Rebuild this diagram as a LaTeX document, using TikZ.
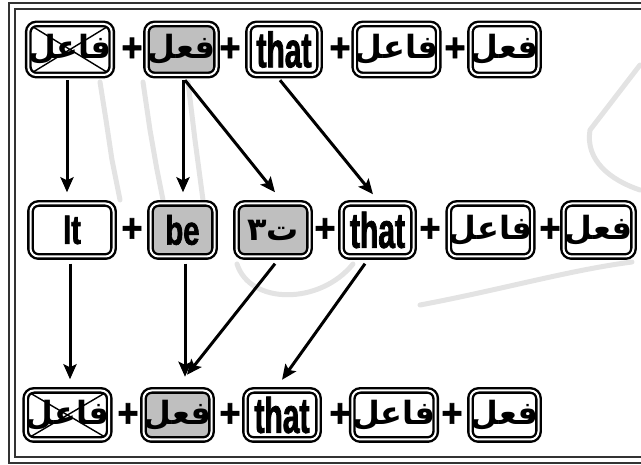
\documentclass[tikz,border=0pt]{standalone}
\usepackage{fontspec}
\setmainfont{Liberation Sans}
\newfontfamily\thatfont[FakeStretch=0.6,FakeBold=1.5]{Liberation Sans}
\newfontfamily\shortfont[FakeStretch=0.71,FakeBold=1.5]{Liberation Sans}
\newfontfamily\plusfont[FakeStretch=0.9,FakeBold=1.5]{Liberation Sans}
\newfontfamily\arabicfont[Script=Arabic]{DejaVu Sans}
\TeXXeTstate=1
\usetikzlibrary{arrows.meta}
\newcommand{\arword}[1]{{\arabicfont\bfseries\fontsize{32}{32}\selectfont\beginR #1\endR}}
\tikzset{
  word/.style={draw=black,double=white,double distance=2pt,line width=2.4pt,
    rounded corners=8pt,inner sep=0pt},
  shaded/.style={fill=gray!50},
  crossed/.style={path picture={\draw[line width=1.4pt]
    (path picture bounding box.north west) -- (path picture bounding box.south east)
    (path picture bounding box.south west) -- (path picture bounding box.north east);}},
  plus/.style={inner sep=0pt,font=\plusfont\bfseries\fontsize{40}{40}\selectfont},
  thatw/.style={font=\thatfont\bfseries\fontsize{50}{50}\selectfont},
  shortw/.style={font=\shortfont\bfseries\fontsize{41}{41}\selectfont},
  arr/.style={line width=3pt,-{Stealth[length=15pt,width=13pt,inset=3pt]}},
  frame/.style={draw=black!80,line width=2.2pt},
  stain/.style={draw=gray!22,line width=5pt,line cap=round,line join=round}
}
\begin{document}
\begin{tikzpicture}[x=1pt,y=-1pt]
        \useasboundingbox (0,0) rectangle (641,465);
        % watermark
        \draw[stain] (100,82) -- (106,120) -- (112,160) -- (120,200);
        \draw[stain] (143,82) -- (150,130) -- (157,170) -- (163,200);
        \draw[stain] (188,82) -- (195,140) -- (203,200);
        \draw[stain] (237,264) .. controls (250,305) and (320,305) .. (353,264);
        \draw[stain] (640,65) -- (590,130) .. controls (585,160) and (610,180) .. (640,190);
        \draw[stain] (420,305) .. controls (500,290) and (570,270) .. (632,262);
        \draw[frame] (9,3) rectangle (680,463);
        \draw[frame] (15,9) rectangle (675,457);
        % first row
        \draw (70,49.5) node[word,crossed,minimum width=79pt,minimum height=51pt](a1){\arword{فاعل}};
        \draw (132,49.5) node[plus](q1){+};
        \draw (181.5,49.5) node[word,shaded,minimum width=70pt,minimum height=51pt](a2){\arword{فعل}};
        \draw (230,49.5) node[plus](q2){+};
        \draw (284,49.5) node[word,thatw,minimum width=71pt,minimum height=51pt](a3){that};
        \draw (340,49.5) node[plus](q3){+};
        \draw (396.5,49.5) node[word,minimum width=80pt,minimum height=51pt](a4){\arword{فاعل}};
        \draw (455,49.5) node[plus](q4){+};
        \draw (504.5,49.5) node[word,minimum width=68pt,minimum height=51pt](a5){\arword{فعل}};
        % second row
        \draw (72,230) node[word,shortw,minimum width=83pt,minimum height=53pt](b1){It};
        \draw (132,230) node[plus](q5){+};
        \draw (182.5,230) node[word,shortw,shaded,minimum width=64pt,minimum height=53pt](b2){be};
        \draw (273,230) node[word,shaded,minimum width=73pt,minimum height=53pt](b3){\arword{ت٣}};
        \draw (325,230) node[plus](q6){+};
        \draw (377.5,230) node[word,thatw,minimum width=72pt,minimum height=53pt](b4){that};
        \draw (430,230) node[plus](q7){+};
        \draw (490.5,230) node[word,minimum width=78pt,minimum height=53pt](b5){\arword{فاعل}};
        \draw (550,230) node[plus](q8){+};
        \draw (598.5,230) node[word,minimum width=70pt,minimum height=53pt](b6){\arword{فعل}};
        % third row
        \draw (67.5,415) node[word,crossed,minimum width=82pt,minimum height=49pt](c1){\arword{فاعل}};
        \draw (128,415) node[plus](q9){+};
        \draw (177.5,415) node[word,shaded,minimum width=68pt,minimum height=49pt](c2){\arword{فعل}};
        \draw (230,415) node[plus](q10){+};
        \draw (282,415) node[word,thatw,minimum width=73pt,minimum height=49pt](c3){that};
        \draw (340,415) node[plus](q11){+};
        \draw (394,415) node[word,minimum width=81pt,minimum height=49pt](c4){\arword{فاعل}};
        \draw (452,415) node[plus](q12){+};
        \draw (504.5,415) node[word,minimum width=68pt,minimum height=49pt](c5){\arword{فعل}};
        % arrows
        \draw[arr] ([xshift=-3pt,yshift=-4pt]a1.south) -- ([xshift=-5pt,yshift=10pt]b1.north);
        \draw[arr] ([xshift=1.5pt,yshift=-4pt]a2.south) -- ([xshift=0.5pt,yshift=10pt]b2.north);
        \draw[arr] ([xshift=3.5pt,yshift=-4pt]a2.south) -- ([xshift=2pt,yshift=10pt]b3.north);
        \draw[arr] ([xshift=-4pt,yshift=-4pt]a3.south) -- ([xshift=-4.5pt,yshift=8pt]b4.north);
        \draw[arr] ([xshift=-2pt,yshift=-6pt]b1.south) -- ([xshift=2.5pt,yshift=10pt]c1.north);
        \draw[arr] ([xshift=2.5pt,yshift=-6pt]b2.south) -- ([xshift=7.5pt,yshift=12.5pt]c2.north);
        \draw[arr] ([xshift=2pt,yshift=-6pt]b3.south) -- ([xshift=9.5pt,yshift=14.5pt]c2.north);
        \draw[arr] ([xshift=-12.5pt,yshift=-6pt]b4.south) -- ([yshift=9.5pt]c3.north);
\end{tikzpicture}
\end{document}
